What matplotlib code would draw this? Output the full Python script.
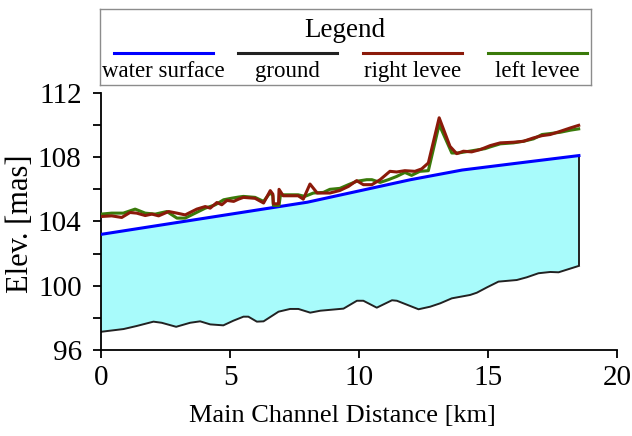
import matplotlib
matplotlib.use("Agg")
import matplotlib.pyplot as plt
import numpy as np

plt.rcParams['font.family'] = ['Liberation Serif', 'DejaVu Serif']

# water surface profile (km, m)
ws_x = [0.0, 2.0, 4.0, 6.0, 8.0, 10.0, 12.0, 14.0, 16.0, 18.53]
ws_y = [103.2, 103.7, 104.2, 104.7, 105.2, 105.9, 106.6, 107.2, 107.6, 108.1]

# ground (channel bed)
gr_x = [0.0, 0.87, 1.38, 2.03, 2.35, 2.91, 3.45, 3.84, 4.23, 4.74, 5.13, 5.52, 5.71,
        6.04, 6.3, 6.88, 7.33, 7.65, 8.11, 8.5, 9.4, 9.92, 10.17, 10.69, 11.28, 11.47,
        12.31, 12.76, 13.15, 13.6, 14.31, 14.57, 14.96, 15.41, 16.12, 16.51, 16.96,
        17.42, 17.74, 18.53]
gr_y = [97.14, 97.31, 97.5, 97.77, 97.7, 97.45, 97.7, 97.79, 97.6, 97.54, 97.83, 98.08, 98.08,
        97.77, 97.79, 98.39, 98.56, 98.56, 98.33, 98.45, 98.58, 99.07, 99.07, 98.64, 99.1, 99.07,
        98.54, 98.7, 98.91, 99.22, 99.43, 99.57, 99.9, 100.26, 100.36, 100.53, 100.78,
        100.86, 100.84, 101.24]

# right levee
rl_x = [0.0, 0.41, 0.8, 1.12, 1.38, 1.71, 1.97, 2.23, 2.62, 2.94, 3.26, 3.71, 4.04, 4.23,
        4.49, 4.68, 4.88, 5.14, 5.33, 5.52, 5.97, 6.3, 6.56, 6.66, 6.68, 6.88, 6.9, 7.06,
        7.64, 7.84, 8.1, 8.38, 8.87, 9.26, 9.59, 9.91, 10.17, 10.5, 10.82, 11.2, 11.46,
        11.78, 12.17, 12.43, 12.69, 13.11, 13.53, 13.79, 14.05, 14.37, 14.7, 15.09, 15.48,
        15.99, 16.38, 16.77, 17.1, 17.42, 17.81, 18.2, 18.52]
rl_y = [104.31, 104.35, 104.25, 104.56, 104.52, 104.37, 104.46, 104.35, 104.62, 104.52,
        104.41, 104.77, 104.93, 104.83, 105.18, 105.04, 105.31, 105.25, 105.39, 105.5,
        105.44, 105.15, 105.92, 105.7, 105.1, 105.1, 106.0, 105.6, 105.6, 105.39, 106.33,
        105.77, 105.77, 105.93, 106.18, 106.54, 106.29, 106.29, 106.6, 107.12, 107.08,
        107.16, 107.12, 107.27, 107.64, 110.45, 108.67, 108.22, 108.37, 108.33, 108.47,
        108.72, 108.89, 108.93, 108.99, 109.2, 109.34, 109.41, 109.61, 109.82, 109.98]

# left levee
ll_x = [0.0, 0.41, 0.86, 1.32, 1.71, 2.1, 2.55, 2.94, 3.26, 3.65, 4.04, 4.43, 4.75, 5.07,
        5.33, 5.52, 5.97, 6.3, 6.56, 6.66, 6.68, 6.9, 6.95, 7.06, 7.64, 7.9, 8.23, 8.62,
        8.87, 9.26, 9.59, 9.91, 10.3, 10.5, 10.82, 11.14, 11.46, 11.78, 12.04, 12.36,
        12.69, 13.11, 13.6, 13.86, 14.12, 14.5, 14.89, 15.09, 15.48, 15.99, 16.38, 16.77,
        17.1, 17.42, 17.81, 18.2, 18.52]
ll_y = [104.46, 104.52, 104.52, 104.77, 104.52, 104.46, 104.62, 104.21, 104.21, 104.52,
        104.83, 105.04, 105.35, 105.45, 105.52, 105.56, 105.5, 105.25, 105.8, 105.6, 105.0,
        105.0, 105.6, 105.66, 105.66, 105.56, 105.77, 105.81, 106.0, 106.06, 106.29, 106.5,
        106.6, 106.6, 106.43, 106.6, 106.8, 107.05, 106.87, 107.12, 107.16, 110.03, 108.26,
        108.26, 108.33, 108.43, 108.53, 108.64, 108.83, 108.89, 108.99, 109.14, 109.41,
        109.47, 109.55, 109.68, 109.76]

legend_labels = ['water surface', 'ground', 'right levee', 'left levee']
colors = ['#0000ff', '#222222', '#8b1a0a', '#3a7a0a']

fig = plt.figure(figsize=(6.32, 4.36), dpi=100)
ax = fig.add_axes([0.160, 0.197, 0.816, 0.590])

# water area between ground and water surface
poly_x = np.r_[gr_x, ws_x[::-1]]
poly_y = np.r_[gr_y, ws_y[::-1]]
ax.fill(poly_x, poly_y, color='#a8fbfb', lw=0, zorder=1)
ax.plot(gr_x, gr_y, color=colors[1], lw=1.4, zorder=2)
ax.vlines(gr_x[-1], gr_y[-1], ws_y[-1], color=colors[1], lw=1.4, zorder=2)
ax.plot(ws_x, ws_y, color=colors[0], lw=2.2, zorder=3)
ax.plot(ll_x, ll_y, color=colors[3], lw=2.2, zorder=4)
ax.plot(rl_x, rl_y, color=colors[2], lw=2.2, zorder=5)

ax.set_xlim(0, 20)
ax.set_ylim(96, 112)
ax.set_xticks([0, 5, 10, 15, 20])
ax.set_yticks([96, 100, 104, 108, 112])
ax.set_yticks([98, 102, 106, 110], minor=True)
for s in ['top', 'right']:
    ax.spines[s].set_visible(False)
for s in ['left', 'bottom']:
    ax.spines[s].set_linewidth(1.3)
ax.tick_params(which='both', direction='out', length=6, width=1.3, labelsize=21)
ax.tick_params(axis='y', which='both', pad=8)
ax.tick_params(axis='x', pad=5)
ax.set_xlabel('Main Channel Distance [km]', fontsize=19)
ax.xaxis.set_label_coords(0.467, -0.215)
ax.set_ylabel('Elev. [mas]', fontsize=22)
ax.yaxis.set_label_coords(-0.128, 0.49)

# custom legend box (lines above labels)
lax = fig.add_axes([0.158, 0.805, 0.777, 0.174])
lax.set_xlim(0, 491)
lax.set_ylim(76, 0)
lax.set_xticks([])
lax.set_yticks([])
for s in lax.spines.values():
    s.set_edgecolor('#8c8c8c')
    s.set_linewidth(1.0)
lax.text(245, 28, 'Legend', ha='center', va='baseline', fontsize=19.5)
centers = [63.5, 188, 312.5, 437.5]
for c, lab, col in zip(centers, legend_labels, colors):
    lax.plot([c - 49.5, c + 49.5], [44, 44], color=col, lw=2.2)
    lax.text(c, 68, lab, ha='center', va='baseline', fontsize=16.5)

fig.savefig('out.png', dpi=100)
